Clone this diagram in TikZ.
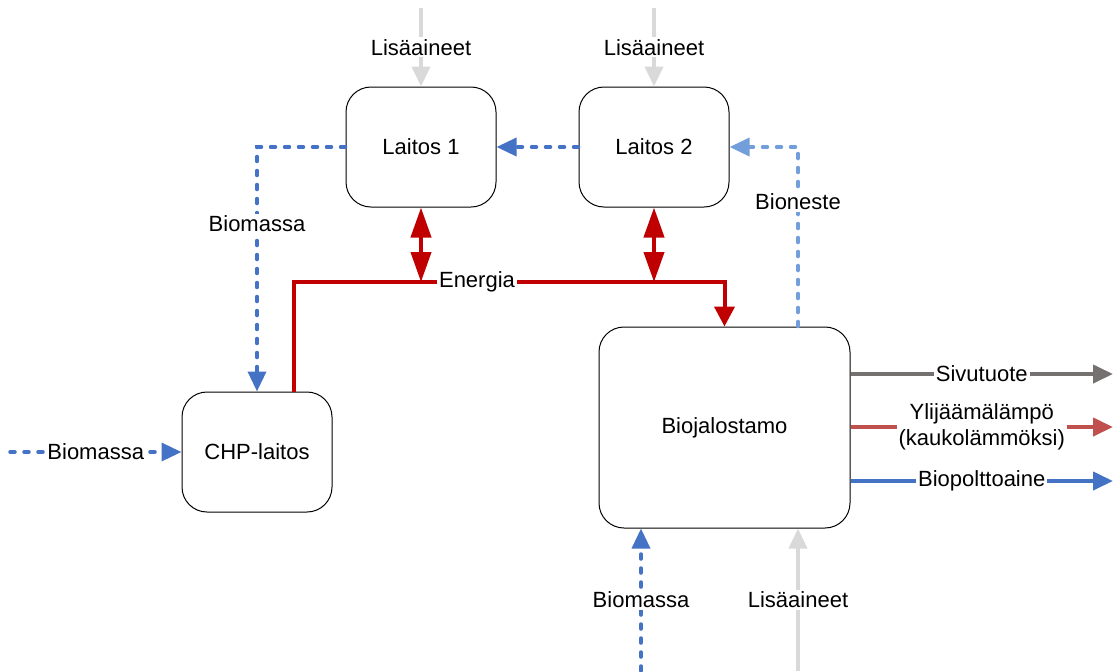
\documentclass[tikz,border=0pt]{standalone}
\usepackage{fontspec}
\setmainfont{Liberation Sans}
\usetikzlibrary{arrows.meta}

\definecolor{bioblue}{HTML}{4472C4}
\definecolor{lightblue}{HTML}{729FDC}
\definecolor{addgray}{HTML}{D9D9D9}
\definecolor{energyred}{HTML}{C00000}
\definecolor{sidegray}{HTML}{767171}
\definecolor{heatred}{HTML}{C0504D}

\begin{document}
\begin{tikzpicture}[
    x=0.5pt,y=-0.5pt,
    >={Triangle[length=10pt,width=9pt]},
    font=\fontsize{11}{13}\selectfont,
    plant/.style={draw=black,line width=0.5pt,rounded corners=12.5pt,minimum width=75pt,minimum height=60pt,align=center},
    lbl/.style={fill=white,text=black,inner sep=1pt,align=center},
    bio/.style={->,draw=bioblue,line width=1.75pt,line cap=round,dash pattern=on 2.5pt off 4.5pt},
    liq/.style={bio,draw=lightblue},
    add/.style={->,draw=addgray,line width=2pt},
    energy/.style={draw=energyred,line width=2pt},
    dbl/.style={energy,{Triangle[length=15pt,width=10pt]}-{Triangle[length=15pt,width=10pt]}},
    outp/.style={->,line width=2pt}
    ]
    \useasboundingbox (0,0) rectangle (1113,671);

    % plants
    \node[plant] (L1) at (421,147) {Laitos 1};
    \node[plant] (L2) at (654,147) {Laitos 2};
    \node[plant] (CHP) at (257,452) {CHP-laitos};
    \node[plant,minimum width=125.5pt,minimum height=100.5pt] (BJ) at (724.5,427.5) {Biojalostamo};

    % free ends
    \coordinate (add1) at (421,8);
    \coordinate (add2) at (654,8);
    \coordinate (add3) at (798,671);
    \coordinate (bioA) at (10,452);
    \coordinate (bioB) at (641,671);
    \coordinate (bus) at (477,282);
    \coordinate (out1) at (1113,374);
    \coordinate (out2) at (1113,427);
    \coordinate (out3) at (1113,481);

    % additives
    \draw[add] (add1) -- node[lbl] {Lisäaineet} (L1);
    \draw[add] (add2) -- node[lbl] {Lisäaineet} (L2);
    \draw[add] (add3) -- node[lbl] {Lisäaineet} (BJ.south -| add3);

    % biomass
    \draw[bio] (L2) -- (L1);
    \draw[bio] (L1.west) -| node[lbl,pos=0.657] {Biomassa} (CHP.north);
    \draw[bio] (bioA) -- node[lbl] {Biomassa} (CHP);
    \draw[bio] (bioB) -- node[lbl] {Biomassa} (BJ.south -| bioB);
    \draw[liq] ([xshift=36.75pt]BJ.north) |- node[lbl,pos=0.347] {Bioneste} (L2.east);

    % energy
    \draw[energy,->,>={Triangle[length=10pt,width=10pt]}] ([xshift=18.5pt]CHP.north) |- (bus) -| (BJ.north);
    \node[lbl] at (bus) {Energia};
    \draw[dbl] (L1.south) -- (L1.south |- bus);
    \draw[dbl] (L2.south) -- (L2.south |- bus);

    % products
    \draw[outp,sidegray] (BJ.east |- out1) -- node[lbl] {Sivutuote} (out1);
    \draw[outp,heatred] (BJ.east |- out2) -- node[lbl] {Ylijäämälämpö\\(kaukolämmöksi)} (out2);
    \draw[outp,bioblue] (BJ.east |- out3) -- node[lbl] {Biopolttoaine} (out3);
  \end{tikzpicture}
\end{document}
